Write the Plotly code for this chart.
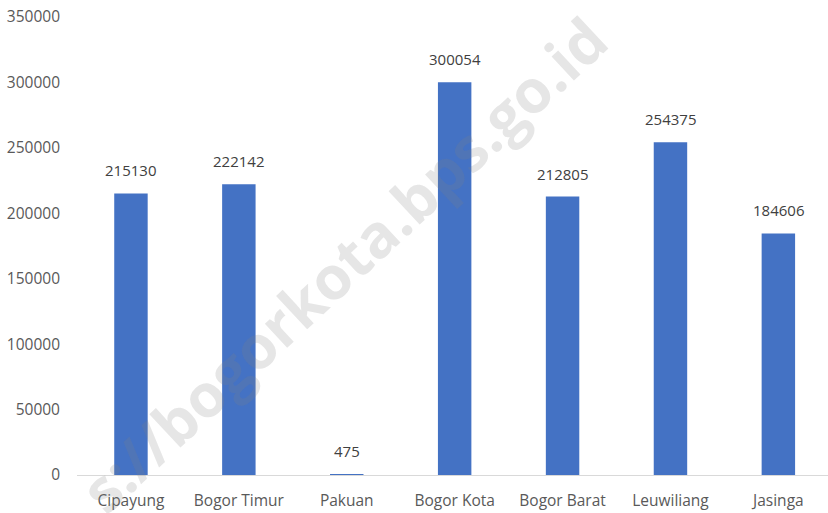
import plotly.graph_objects as go

kecamatan = ["Cipayung", "Bogor Timur", "Pakuan", "Bogor Kota", "Bogor Barat", "Leuwiliang", "Jasinga"]
jumlah = [215130, 222142, 475, 300054, 212805, 254375, 184606]
y_ticks = [0, 50000, 100000, 150000, 200000, 250000, 300000, 350000]

FONT = "Open Sans, Noto Sans, sans-serif"

fig = go.Figure(go.Bar(
    x=kecamatan,
    y=jumlah,
    marker=dict(color="#4472c4", line=dict(width=0)),
    width=0.31,
    hoverinfo="x+y",
))

# data labels above the bars
for k, v in zip(kecamatan, jumlah):
    fig.add_annotation(x=k, y=v, text=str(v), showarrow=False,
                       yanchor="bottom", yshift=11,
                       font=dict(color="#404040", size=15, family=FONT))

fig.update_layout(
    width=828, height=513,
    paper_bgcolor="white", plot_bgcolor="white",
    margin=dict(l=77, r=0, t=17, b=38),
    font=dict(family=FONT, color="#595959", size=15),
    showlegend=False,
    xaxis=dict(showline=True, linecolor="#d9d9d9", linewidth=1, ticks="",
               range=[-0.5, 6.46], automargin=False, ticklabelstandoff=11,
               tickfont=dict(size=15.5, color="#595959")),
    yaxis=dict(range=[0, 350000], tickvals=y_ticks, ticktext=[str(t) for t in y_ticks],
               showgrid=False, zeroline=False, showline=False, ticks="",
               automargin=False, ticklabelstandoff=16, ticklabeloverflow="allow",
               tickfont=dict(size=15.5, color="#595959")),
)

fig.add_annotation(
    text="<b>s://bogorkota.bps.go.id</b>",
    xref="paper", yref="paper", x=0.355, y=0.46,
    showarrow=False, textangle=-43,
    font=dict(size=60, color="rgba(128,128,128,0.2)", family=FONT),
)

# drop the default 8px page margin so the figure fills the window
fig.write_html("out.html", config={"displayModeBar": False},
               post_script="document.body.style.margin='0';")
